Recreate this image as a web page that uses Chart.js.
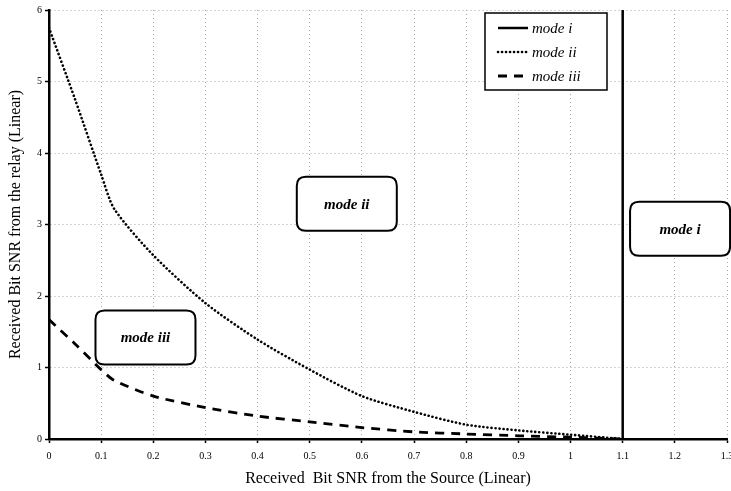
<!DOCTYPE html>
<html>
<head>
<meta charset="utf-8">
<script src="https://cdn.jsdelivr.net/npm/chart.js@4"></script>
<style>
    html, body { margin: 0; padding: 0; background: #ffffff; }
    #wrap { width: 731px; height: 491px; }
</style>
</head>
<body>
<div id="wrap"><canvas id="snr-chart" width="731" height="491"></canvas></div>
<script>
"use strict";

// Source SNR values where the two curves were sampled.
const sourceSnr = [0, 0.05, 0.1, 0.125, 0.2, 0.3, 0.4, 0.5, 0.6, 0.7, 0.8, 0.9, 1.0, 1.1];

// Relay SNR threshold for mode ii and mode iii at each source SNR.
const modeTwo = [5.75, 4.75, 3.7, 3.22, 2.57, 1.9, 1.39, 0.97, 0.6, 0.38, 0.2, 0.12, 0.06, 0.0];
const modeThree = [1.67, 1.33, 0.97, 0.82, 0.6, 0.44, 0.32, 0.24, 0.16, 0.1, 0.07, 0.045, 0.025, 0.0];

// Mode i starts at a fixed source SNR and spans the whole relay range.
const modeOneX = [1.1, 1.1];
const modeOneY = [0, 6];

const xTickLabels = ["0", "0.1", "0.2", "0.3", "0.4", "0.5", "0.6", "0.7", "0.8", "0.9", "1", "1.1", "1.2", "1.3"];
const yTickLabels = ["0", "1", "2", "3", "4", "5", "6"];

// Region labels inside the plot: text and the data point they are centred on.
const regionLabels = [
    { text: "mode i", x: 1.21, y: 2.94 },
    { text: "mode ii", x: 0.571, y: 3.29 },
    { text: "mode iii", x: 0.185, y: 1.42 }
];

const serif = "'Liberation Serif', 'DejaVu Serif', serif";

function toPoints(xs, ys) {
    return xs.map((x, i) => ({ x: x, y: ys[i] }));
}

function roundRect(ctx, x, y, w, h, r) {
    ctx.beginPath();
    ctx.moveTo(x + r, y);
    ctx.lineTo(x + w - r, y);
    ctx.quadraticCurveTo(x + w, y, x + w, y + r);
    ctx.lineTo(x + w, y + h - r);
    ctx.quadraticCurveTo(x + w, y + h, x + w - r, y + h);
    ctx.lineTo(x + r, y + h);
    ctx.quadraticCurveTo(x, y + h, x, y + h - r);
    ctx.lineTo(x, y + r);
    ctx.quadraticCurveTo(x, y, x + r, y);
    ctx.closePath();
}

// Rounded boxes with the mode names, plus the framed legend in the upper right.
const modeBoxes = {
    id: "modeBoxes",
    afterDatasetsDraw(chart) {
        const ctx = chart.ctx;
        const xs = chart.scales.x;
        const ys = chart.scales.y;

        ctx.save();
        ctx.font = "italic bold 15px " + serif;
        ctx.textAlign = "center";
        ctx.textBaseline = "middle";
        regionLabels.forEach((label) => {
            const cx = xs.getPixelForValue(label.x);
            const cy = ys.getPixelForValue(label.y);
            const w = 100;
            const h = 54;
            roundRect(ctx, cx - w / 2, cy - h / 2, w, h, 9);
            ctx.fillStyle = "#ffffff";
            ctx.fill();
            ctx.lineWidth = 2;
            ctx.strokeStyle = "#000000";
            ctx.stroke();
            ctx.fillStyle = "#000000";
            ctx.fillText(label.text, cx, cy + 1);
        });

        // Legend frame
        const left = 485;
        const top = 13;
        const width = 122;
        const height = 77;
        ctx.fillStyle = "#ffffff";
        ctx.fillRect(left, top, width, height);
        ctx.lineWidth = 1.5;
        ctx.strokeStyle = "#000000";
        ctx.strokeRect(left, top, width, height);

        ctx.font = "italic 15px " + serif;
        ctx.textAlign = "left";
        chart.data.datasets.forEach((dataset, i) => {
            const rowY = top + 15 + i * 24;
            ctx.save();
            ctx.lineWidth = dataset.borderWidth;
            ctx.lineCap = dataset.borderCapStyle || "butt";
            ctx.setLineDash(dataset.borderDash || []);
            ctx.beginPath();
            ctx.moveTo(left + 13, rowY);
            ctx.lineTo(left + 43, rowY);
            ctx.stroke();
            ctx.restore();
            ctx.fillStyle = "#000000";
            ctx.fillText(dataset.label, left + 47, rowY + 1);
        });
        ctx.restore();
    }
};

const config = {
    type: "scatter",
    data: {
        datasets: [
            {
                label: "mode i",
                data: toPoints(modeOneX, modeOneY),
                borderColor: "#000000",
                borderWidth: 2.5,
                showLine: true,
                pointRadius: 0
            },
            {
                label: "mode ii",
                data: toPoints(sourceSnr, modeTwo),
                borderColor: "#000000",
                borderWidth: 2.6,
                borderDash: [0.1, 3.9],
                borderCapStyle: "round",
                showLine: true,
                tension: 0.25,
                pointRadius: 0
            },
            {
                label: "mode iii",
                data: toPoints(sourceSnr, modeThree),
                borderColor: "#000000",
                borderWidth: 2.8,
                borderDash: [9, 7],
                showLine: true,
                tension: 0.25,
                pointRadius: 0
            }
        ]
    },
    options: {
        responsive: false,
        animation: false,
        layout: {
            padding: { top: 10, right: 4, left: 0, bottom: 0 }
        },
        scales: {
            x: {
                type: "linear",
                min: 0,
                max: 1.3,
                afterFit(scale) {
                    scale.height = 52;
                    scale.paddingLeft = 0;
                    scale.paddingRight = 0;
                },
                ticks: {
                    stepSize: 0.1,
                    color: "#000000",
                    padding: 7,
                    maxRotation: 0,
                    autoSkip: false,
                    font: { family: serif, size: 10 },
                    callback(value, index) {
                        return xTickLabels[index];
                    }
                },
                grid: {
                    color: "#a8a8a8",
                    lineWidth: 1,
                    tickColor: "#000000",
                    tickLength: 4,
                    tickWidth: 1.5
                },
                border: {
                    display: true,
                    color: "#000000",
                    width: 2.5,
                    dash: [1, 3]
                },
                title: {
                    display: true,
                    text: "Received  Bit SNR from the Source (Linear)",
                    color: "#000000",
                    font: { family: serif, size: 16 },
                    padding: { top: 0, bottom: 3 }
                }
            },
            y: {
                type: "linear",
                min: 0,
                max: 6,
                afterFit(scale) {
                    scale.width = 49;
                },
                ticks: {
                    stepSize: 1,
                    color: "#000000",
                    padding: 3,
                    font: { family: serif, size: 10 },
                    callback(value, index) {
                        return yTickLabels[index];
                    }
                },
                grid: {
                    color: "#a8a8a8",
                    lineWidth: 1,
                    tickColor: "#000000",
                    tickLength: 4,
                    tickWidth: 1.5
                },
                border: {
                    display: true,
                    color: "#000000",
                    width: 2.5,
                    dash: [1, 3]
                },
                title: {
                    display: true,
                    text: "Received Bit SNR from the relay (Linear)",
                    color: "#000000",
                    font: { family: serif, size: 16 },
                    padding: { top: 6, bottom: 0 }
                }
            }
        },
        plugins: {
            legend: { display: false },
            tooltip: { enabled: false }
        }
    },
    plugins: [modeBoxes]
};

new Chart(document.getElementById("snr-chart"), config);
</script>
</body>
</html>
